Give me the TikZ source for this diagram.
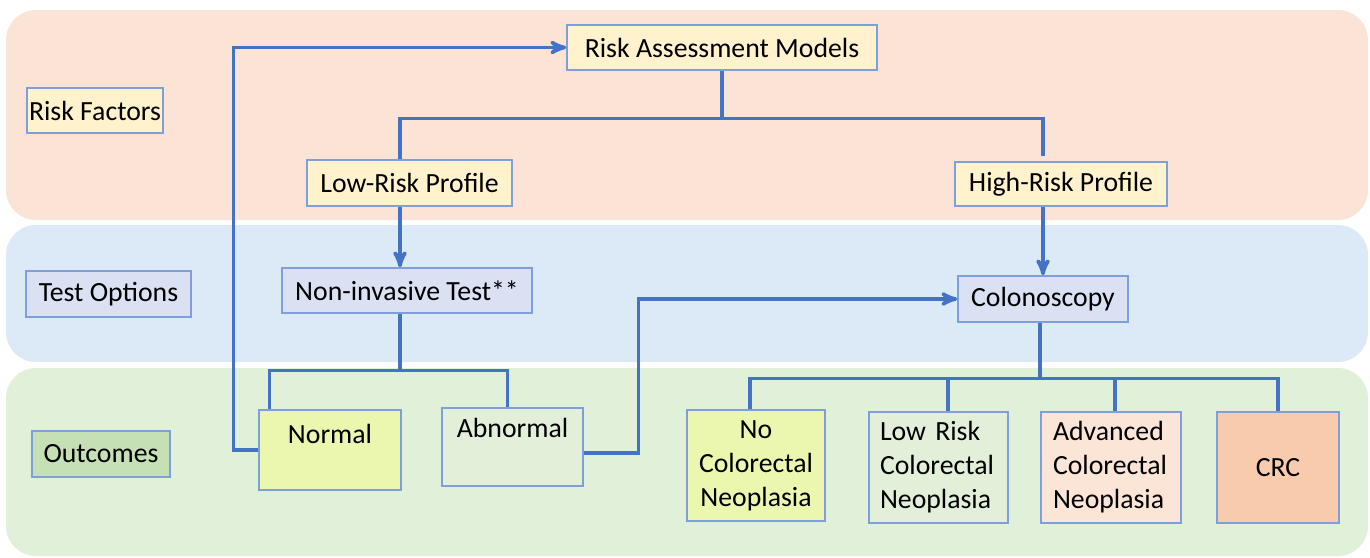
\documentclass[tikz,border=0pt]{standalone}
\usepackage{fontspec}
\setmainfont{Carlito}
\usepackage{tikz}
\usetikzlibrary{positioning, arrows}
\definecolor{linkblue}{HTML}{4472C4}
\definecolor{boxline}{HTML}{7F9FDA}
\definecolor{bandpeach}{HTML}{FBE3D6}
\definecolor{bandblue}{HTML}{DCE9F6}
\definecolor{bandgreen}{HTML}{E1F1D9}
\definecolor{fillyellow}{HTML}{FFF2CC}
\definecolor{fillblue}{HTML}{D9E1F3}
\definecolor{fillgreen}{HTML}{C5E0B4}
\definecolor{filllime}{HTML}{EBF7AE}
\definecolor{fillpale}{HTML}{E2F0D9}
\definecolor{fillpeach}{HTML}{FBE5D6}
\definecolor{fillsalmon}{HTML}{F8CBAD}
\tikzset{
    box/.style={
        draw=boxline,
        line width=0.8pt,
        inner sep=0pt,
        font=\fontsize{15.8}{19.3}\selectfont
    },
    band/.style={rounded corners=0.6cm},
    link/.style={
        draw=linkblue,
        line width=2pt,
        >=stealth'
    }
}

\begin{document}
\begin{tikzpicture}[x=0.02cm,y=-0.02cm]
	\useasboundingbox (0,0) rectangle (1370,558);
	\fill[band,bandpeach] (6,10) rectangle (1368,220);
	\fill[band,bandblue] (6,225) rectangle (1368,362);
	\fill[band,bandgreen] (6,368) rectangle (1368,556);

	\node[box,fill=fillyellow,minimum width=2.72cm,minimum height=0.9cm] at (95,110.5) (rf) {Risk Factors};
	\node[box,fill=fillblue,minimum width=3.3cm,minimum height=0.92cm] at (108.5,294) (to) {Test Options};
	\node[box,fill=fillgreen,minimum width=2.76cm,minimum height=0.92cm] at (101,454) (oc) {Outcomes};

	\node[box,fill=fillyellow,minimum width=6.2cm,minimum height=0.9cm] at (722,47.5) (ram) {Risk Assessment Models};
	\node[box,fill=fillyellow,minimum width=4.1cm,minimum height=0.92cm] at (409.5,183) (lrp) {Low-Risk Profile};
	\node[box,fill=fillyellow,minimum width=4.24cm,minimum height=0.88cm] at (1061,184) (hrp) {High-Risk Profile};
	\node[box,fill=fillblue,minimum width=5cm,minimum height=0.9cm] at (407,290.5) (nit) {Non-invasive Test**};
	\node[box,fill=fillblue,minimum width=3.4cm,minimum height=0.92cm] at (1043,299) (col) {Colonoscopy};

	\node[box,fill=filllime,minimum width=2.84cm,text height=18.8pt,text depth=26.7pt] at (330,450) (nor) {Normal};
	\node[box,fill=fillpale,minimum width=2.82cm,text height=17pt,text depth=27.4pt] at (512.5,447) (abn) {Abnormal};
	\node[box,fill=filllime,minimum width=2.76cm,minimum height=2.22cm,align=center] at (756,465.5) (noc) {No\\Colorectal\\Neoplasia};
	\node[box,fill=fillpale,minimum width=2.78cm,minimum height=2.22cm,inner xsep=0.22cm,text width=2.34cm,align=left] at (938.5,467.5) (lrn) {Low Risk\\Colorectal\\Neoplasia};
	\node[box,fill=fillpeach,minimum width=2.8cm,minimum height=2.22cm,inner xsep=0.24cm,text width=2.32cm,align=left] at (1111,467.5) (acn) {Advanced\\Colorectal\\Neoplasia};
	\node[box,fill=fillsalmon,minimum width=2.44cm,minimum height=2.22cm] at (1278,467.5) (crc) {CRC};

	\draw[link,->] (nor.west) -- ++(-25,0) |- (ram.west);
	\draw[link] (ram.south) -- ++(0,48) coordinate (rsplit);
	\draw[link] (rsplit) -| ([xshift=-0.19cm]lrp.north);
	\draw[link] (rsplit) -| ([yshift=0.1cm]col.north |- hrp.north);
	\draw[link,->] ([xshift=-0.19cm]lrp.south) -- ([xshift=-0.19cm]lrp.south |- nit.north);
	\draw[link,->] (col.north |- hrp.south) -- (col.north);

	\draw[link] ([xshift=-0.14cm]nit.south) -- ++(0,57) coordinate (nsplit);
	\draw[link] (nsplit) -| ([xshift=0.22cm]nor.north west);
	\draw[link] (nsplit) -| ([xshift=-0.1cm]abn.north);
	\draw[link,->] ([yshift=-0.12cm]abn.east) -- ++(55,0) |- (col.west);

	\draw[link] ([xshift=-0.06cm]col.south) -- ++(0,56) coordinate (csplit);
	\draw[link] (csplit) -| ([xshift=-0.12cm]noc.north);
	\draw[link] (csplit) -| ([xshift=0.19cm]lrn.north);
	\draw[link] (csplit) -| ([xshift=0.08cm]acn.north);
	\draw[link] (csplit) -| (crc.north);
\end{tikzpicture}
\end{document}
